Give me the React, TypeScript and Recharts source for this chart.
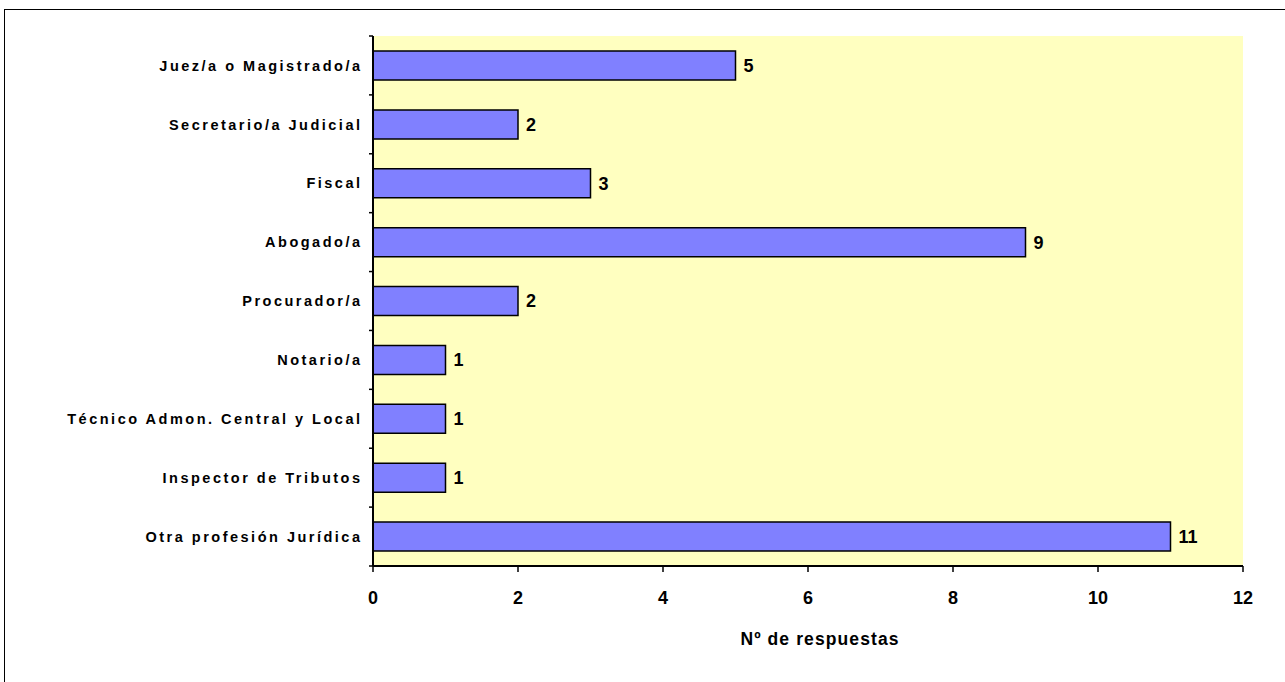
import React from 'react';
import { BarChart, Bar, XAxis, YAxis, CartesianGrid, LabelList, Label } from 'recharts';

const categories = [
  'Juez/a o Magistrado/a',
  'Secretario/a Judicial',
  'Fiscal',
  'Abogado/a',
  'Procurador/a',
  'Notario/a',
  'Técnico Admon. Central y Local',
  'Inspector de Tributos',
  'Otra profesión Jurídica',
];
const responses = [5, 2, 3, 9, 2, 1, 1, 1, 11];
const xTicks = [0, 2, 4, 6, 8, 10, 12];
const xTitle = 'Nº de respuestas';

const data = categories.map((name, i) => ({ name, value: responses[i] }));

const FONT = '"Liberation Sans", Arial, Helvetica, sans-serif';

const YTick = (props: any) => {
  const { x, y, payload, index } = props;
  const off = payload && payload.offset ? payload.offset : 0;
  const last = index === categories.length - 1;
  return (
    <g>
      <line x1={x - 4} x2={x} y1={y - off} y2={y - off} stroke="#000" strokeWidth={1.5} />
      {last && <line x1={x - 4} x2={x} y1={y + off} y2={y + off} stroke="#000" strokeWidth={1.5} />}
      <text
        x={x - 10.5}
        y={y}
        dy="0.36em"
        textAnchor="end"
        fontFamily={FONT}
        fontWeight="bold"
        fontSize={14.5}
        letterSpacing={2.5}
        fill="#000"
      >
        {payload.value}
      </text>
    </g>
  );
};

export default function App() {
  return (
    <div style={{ position: 'absolute', left: 0, top: 0, width: 1285, height: 682, overflow: 'hidden', background: '#fff' }}>
      <div
        style={{
          position: 'absolute',
          left: 4,
          top: 9,
          width: 1400,
          height: 800,
          borderLeft: '1.5px solid #000',
          borderTop: '1.5px solid #000',
        }}
      />
      <div style={{ position: 'absolute', left: 0, top: 0 }}>
        <BarChart
          width={1285}
          height={682}
          data={data}
          layout="vertical"
          margin={{ top: 36, right: 42, bottom: 0, left: 0 }}
          barSize={29}
        >
          <CartesianGrid fill="#FFFFC0" horizontal={false} vertical={false} />
          <XAxis
            type="number"
            domain={[0, 12]}
            ticks={xTicks}
            interval={0}
            height={116}
            tickSize={6}
            tickMargin={19}
            tickLine={{ stroke: '#000', strokeWidth: 1.5 }}
            axisLine={{ stroke: '#000', strokeWidth: 2 }}
            tick={{ fill: '#000', fontFamily: FONT, fontWeight: 'bold', fontSize: 18 }}
          >
            <Label
              value={xTitle}
              position="insideTop"
              offset={67}
              dx={12}
              fill="#000"
              fontFamily={FONT}
              fontWeight="bold"
              fontSize={17.5}
              letterSpacing={1.1}
            />
          </XAxis>
          <XAxis
            xAxisId="top"
            orientation="top"
            type="number"
            domain={[0, 12]}
            height={0}
            tick={false}
            tickLine={false}
            axisLine={{ stroke: '#000', strokeWidth: 2 }}
          />
          <YAxis
            type="category"
            dataKey="name"
            width={373}
            tickSize={0}
            tickMargin={0}
            tickLine={false}
            interval={0}
            axisLine={{ stroke: '#000', strokeWidth: 2 }}
            tick={<YTick />}
          />
          <YAxis
            yAxisId="right"
            orientation="right"
            type="category"
            dataKey="name"
            width={0}
            tick={false}
            tickLine={false}
            axisLine={{ stroke: '#222', strokeWidth: 2 }}
          />
          <Bar dataKey="value" fill="#8080FF" stroke="#000" strokeWidth={1.5} isAnimationActive={false}>
            <LabelList
              dataKey="value"
              position="right"
              offset={8}
              fill="#000"
              fontFamily={FONT}
              fontWeight="bold"
              fontSize={18}
            />
          </Bar>
        </BarChart>
      </div>
    </div>
  );
}
